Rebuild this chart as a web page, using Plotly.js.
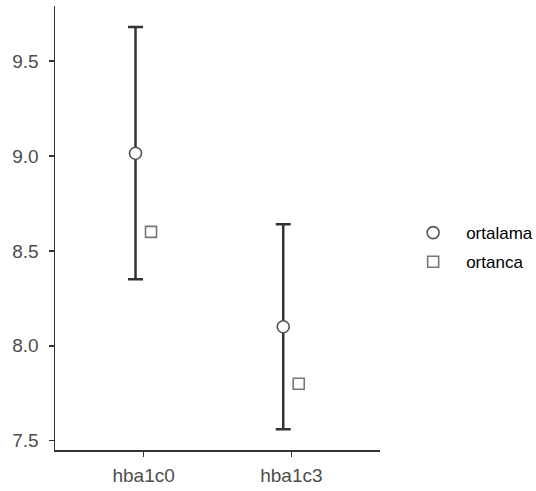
<!DOCTYPE html>
<html>
<head>
<meta charset="utf-8">
<script src="https://cdn.plot.ly/plotly-3.0.1.min.js"></script>
<style>html,body{margin:0;padding:0;background:#fff;}#chart{width:536px;height:491px;}</style>
</head>
<body>
<div id="chart"></div>
<script>
var categories = ['hba1c0', 'hba1c3'];
var ortalama = [9.014, 8.10];
var ortalamaLow = [8.35, 7.56];
var ortalamaHigh = [9.68, 8.64];
var ortanca = [8.60, 7.80];
var seriesNames = ['ortalama', 'ortanca'];

var idx = categories.map(function (c, i) { return i; });
var dodge = [-0.055, 0.05];

var traces = [
  {
    type: 'scatter', mode: 'markers', name: seriesNames[0], legendgroup: 'g1',
    x: idx.map(function (i) { return i + dodge[0]; }),
    y: ortalama,
    marker: { symbol: 'circle', size: 12, color: '#ffffff', line: { color: '#555555', width: 1.6 } },
    error_y: {
      type: 'data', symmetric: false,
      array: ortalama.map(function (v, i) { return ortalamaHigh[i] - v; }),
      arrayminus: ortalama.map(function (v, i) { return v - ortalamaLow[i]; }),
      color: '#333333', thickness: 2.5, width: 7.5
    }
  },
  {
    type: 'scatter', mode: 'markers', name: seriesNames[1], legendgroup: 'g2',
    x: idx.map(function (i) { return i + dodge[1]; }),
    y: ortanca,
    marker: { symbol: 'square', size: 11, color: '#ffffff', line: { color: '#777777', width: 1.6 } }
  }
];

var layout = {
  width: 536, height: 491,
  margin: { l: 55, r: 156, t: 6, b: 41, pad: 0, autoexpand: false },
  paper_bgcolor: '#ffffff', plot_bgcolor: '#ffffff',
  font: { family: 'Liberation Sans, Arial, sans-serif', size: 19, color: '#4d4d4d' },
  showlegend: true,
  legend: {
    x: 1.062, xanchor: 'left', y: 0.456, yanchor: 'middle',
    font: { size: 17, color: '#000000' },
    itemwidth: 56, tracegroupgap: 4, bgcolor: 'rgba(0,0,0,0)'
  },
  xaxis: {
    range: [-0.6, 1.6],
    tickmode: 'array', tickvals: idx, ticktext: categories,
    showgrid: false, zeroline: false,
    showline: true, linecolor: '#333333', linewidth: 1.5,
    ticks: 'outside', ticklen: 5, tickwidth: 1.5, tickcolor: '#333333',
    ticklabelstandoff: 3
  },
  yaxis: {
    range: [7.451, 9.79],
    tickmode: 'linear', tick0: 7.5, dtick: 0.5, tickformat: '.1f',
    showgrid: false, zeroline: false,
    showline: true, linecolor: '#333333', linewidth: 1.5,
    ticks: 'outside', ticklen: 5, tickwidth: 1.5, tickcolor: '#333333',
    ticklabelstandoff: 6
  }
};

Plotly.newPlot('chart', traces, layout, { displayModeBar: false, staticPlot: true });
</script>
</body>
</html>
